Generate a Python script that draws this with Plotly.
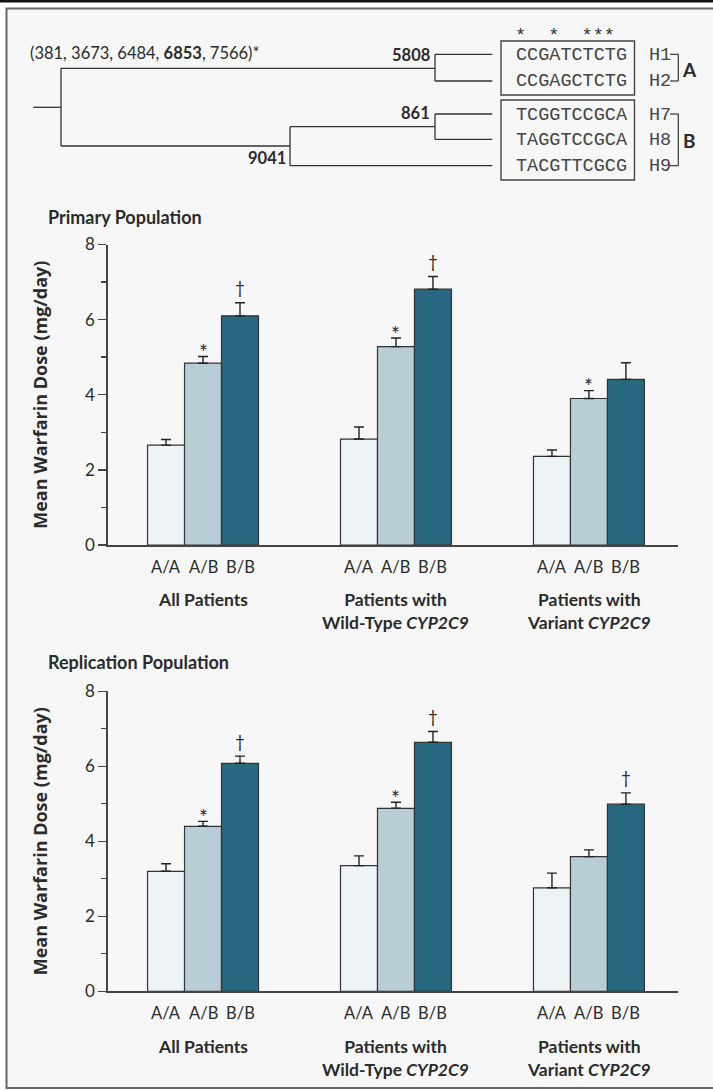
import plotly.graph_objects as go

W, H = 713, 1090

# ---------------- data ----------------
genotypes = ["A/A", "A/B", "B/B"]
groups = ["All Patients",
          "Patients with<br>Wild-Type <i>CYP2C9</i>",
          "Patients with<br>Variant <i>CYP2C9</i>"]

primary_mean = {"A/A": [2.66, 2.82, 2.36],
                "A/B": [4.84, 5.28, 3.90],
                "B/B": [6.10, 6.81, 4.41]}
primary_err = {"A/A": [0.15, 0.32, 0.17],
               "A/B": [0.18, 0.23, 0.21],
               "B/B": [0.35, 0.34, 0.44]}
primary_sig = {"A/A": ["", "", ""],
               "A/B": ["*", "*", "*"],
               "B/B": ["†", "†", ""]}

replication_mean = {"A/A": [3.20, 3.35, 2.76],
                    "A/B": [4.40, 4.88, 3.59],
                    "B/B": [6.08, 6.64, 4.99]}
replication_err = {"A/A": [0.20, 0.26, 0.39],
                   "A/B": [0.13, 0.16, 0.18],
                   "B/B": [0.19, 0.29, 0.30]}
replication_sig = {"A/A": ["", "", ""],
                   "A/B": ["*", "*", ""],
                   "B/B": ["†", "†", "†"]}

yticks_major = [0, 2, 4, 6, 8]
yticks_minor = [1, 3, 5, 7]

haplotypes = ["H1", "H2", "H7", "H8", "H9"]
sequences = ["CCGATCTCTG", "CCGAGCTCTG", "TCGGTCCGCA", "TAGGTCCGCA", "TACGTTCGCG"]
star_positions = [0, 3, 6, 7, 8]
node_labels = ["5808", "861", "9041"]
snp_header = "(381, 3673, 6484, <b>6853</b>, 7566)*"
clade_labels = ["A", "B"]

# ---------------- styling ----------------
colors = {"A/A": "#eef3f6", "A/B": "#b9cdd7", "B/B": "#27677f"}
TXT = "#2b2b2b"
SANS = "Lato, 'Open Sans', sans-serif"
MONO = "'Liberation Mono', 'DejaVu Sans Mono', monospace"
BARGAP = 0.425
BW = (1 - BARGAP) / 3


def X(px):
    return px / W


def Y(py):
    return 1 - py / H


fig = go.Figure()

panels = [
    dict(mean=primary_mean, err=primary_err, sig=primary_sig, xa="x", ya="y",
         y0=545.0, y8=244.5, title="Primary Population", title_y=217,
         geno_y=566.7, grp_y=597.7),
    dict(mean=replication_mean, err=replication_err, sig=replication_sig, xa="x2", ya="y2",
         y0=991.3, y8=691.3, title="Replication Population", title_y=662,
         geno_y=1012.7, grp_y=1045.0),
]

annotations = []
shapes = []

for p in panels:
    for k, g in enumerate(genotypes):
        fig.add_trace(go.Bar(
            x=list(range(len(groups))), y=p["mean"][g], name=g,
            marker=dict(color=colors[g], line=dict(color="#333", width=1.2)),
            error_y=dict(type="data", array=p["err"][g], arrayminus=[0] * len(groups),
                         symmetric=False, color="#222", thickness=1.4, width=5),
            xaxis=p["xa"], yaxis=p["ya"], showlegend=False, hoverinfo="skip",
            offsetgroup=g,
        ))
        for i in range(len(groups)):
            s = p["sig"][g][i]
            xpos = i + (k - 1) * BW
            if s:
                annotations.append(dict(
                    x=xpos, y=p["mean"][g][i] + p["err"][g][i], xref=p["xa"], yref=p["ya"],
                    text=s, showarrow=False, yanchor="middle",
                    yshift=(5 if s == "*" else 15),
                    font=dict(family=SANS, size=21 if s == "*" else 17, color=TXT)))
            annotations.append(dict(
                x=xpos, y=Y(p["geno_y"]), xref=p["xa"], yref="paper", text=g,
                showarrow=False, yanchor="middle",
                font=dict(family=SANS, size=16.5, color=TXT)))
    for i, gname in enumerate(groups):
        annotations.append(dict(
            x=i, y=Y(p["grp_y"] - 11), xref=p["xa"], yref="paper",
            text="<b>" + gname + "</b>", showarrow=False, yanchor="top",
            font=dict(family=SANS, size=17.5, color=TXT)))
    annotations.append(dict(
        x=X(46), y=Y(p["title_y"]), xref="paper", yref="paper",
        text="<b>" + p["title"] + "</b>", showarrow=False, xanchor="left", yanchor="middle",
        font=dict(family=SANS, size=18, color=TXT)))
    annotations.append(dict(
        x=X(40), y=Y((p["y0"] + p["y8"]) / 2), xref="paper", yref="paper",
        text="<b>Mean Warfarin Dose (mg/day)</b>", textangle=-90, showarrow=False,
        xanchor="center", yanchor="middle",
        font=dict(family="'Open Sans', sans-serif", size=18, color=TXT)))

# ---------------- axes ----------------
xdom = [X(107.7), X(677.7)]
xr = [-0.494, 2.46]
axis_common_x = dict(domain=xdom, range=xr, showline=True, linecolor="#444", linewidth=1.5,
                     showticklabels=False, ticks="", showgrid=False, zeroline=False,
                     fixedrange=True, automargin=False)


def yaxis(p, anchor):
    return dict(domain=[Y(p["y0"]), Y(p["y8"])], range=[0, 8], anchor=anchor,
                tickvals=yticks_major, ticktext=[str(v) for v in yticks_major],
                ticks="outside", ticklen=8, tickwidth=1.4, tickcolor="#444",
                showline=True, linecolor="#444", linewidth=1.5, showgrid=False,
                zeroline=False, tickfont=dict(family=SANS, size=17, color=TXT),
                minor=dict(tickvals=yticks_minor, ticks="outside", ticklen=5,
                           tickwidth=1.4, tickcolor="#444", showgrid=False),
                fixedrange=True, automargin=False)


# ---------------- tree diagram ----------------
LC = "#333"


def seg(x0, y0, x1, y1, color=LC, width=1.3):
    shapes.append(dict(type="line", xref="paper", yref="paper",
                       x0=X(x0), y0=Y(y0), x1=X(x1), y1=Y(y1),
                       line=dict(color=color, width=width)))


leaf_y = [54.3, 81.0, 114.0, 139.3, 165.7]
x_root, x_9041, x_node, x_leaf = 61.0, 290.0, 435.0, 492.3
seg(33.3, 107.3, x_root, 107.3)
seg(x_root, 68.3, x_root, 146.0)
seg(x_root, 68.3, x_node, 68.3)
seg(x_root, 146.0, x_9041, 146.0)
seg(x_9041, 126.7, x_9041, leaf_y[4])
seg(x_9041, 126.7, x_node, 126.7)
seg(x_9041, leaf_y[4], x_leaf, leaf_y[4])
seg(x_node, leaf_y[0], x_node, leaf_y[1])
seg(x_node, leaf_y[2], x_node, leaf_y[3])
for ly in leaf_y[:4]:
    seg(x_node, ly, x_leaf, ly)

# boxes
for (t, b) in [(41.0, 95.0), (100.0, 180.0)]:
    shapes.append(dict(type="rect", xref="paper", yref="paper",
                       x0=X(501), y0=Y(t), x1=X(634.5), y1=Y(b),
                       line=dict(color="#444", width=1.4), fillcolor="rgba(0,0,0,0)"))

# brackets
for (t, b) in [(leaf_y[0], leaf_y[1]), (leaf_y[2], leaf_y[4])]:
    seg(670, t, 678.3, t, width=1.2)
    seg(678.3, t, 678.3, b, width=1.2)
    seg(670, b, 678.3, b, width=1.2)

seq_x = 514.0
for hname, sq, ly in zip(haplotypes, sequences, leaf_y):
    annotations.append(dict(x=X(seq_x), y=Y(ly + 1), xref="paper", yref="paper", text=sq,
                            showarrow=False, xanchor="left", yanchor="middle",
                            font=dict(family=MONO, size=18.5, color="#444")))
    annotations.append(dict(x=X(647), y=Y(ly + 1), xref="paper", yref="paper", text=hname,
                            showarrow=False, xanchor="left", yanchor="middle",
                            font=dict(family=MONO, size=18.5, color="#444")))
star_text = "".join("*" if i in star_positions else "\u00a0" for i in range(len(sequences[0])))
annotations.append(dict(x=X(seq_x), y=Y(48), xref="paper", yref="paper", text=star_text,
                        showarrow=False, xanchor="left", yanchor="bottom", borderpad=0,
                        font=dict(family=MONO, size=18.5, color="#333")))
for lab, cy in zip(clade_labels, [69.3, 140.0]):
    annotations.append(dict(x=X(689), y=Y(cy), xref="paper", yref="paper",
                            text="<b>" + lab + "</b>", showarrow=False,
                            xanchor="center", yanchor="middle",
                            font=dict(family=SANS, size=19, color=TXT)))
for lab, (rx, cy) in zip(node_labels, [(432, 55.0), (432, 113.3), (287.5, 157.7)]):
    annotations.append(dict(x=X(rx), y=Y(cy), xref="paper", yref="paper",
                            text="<b>" + lab + "</b>", showarrow=False,
                            xanchor="right", yanchor="middle",
                            font=dict(family=SANS, size=16.5, color=TXT)))
annotations.append(dict(x=X(28), y=Y(53), xref="paper", yref="paper", text=snp_header,
                        showarrow=False, xanchor="left", yanchor="middle",
                        font=dict(family=SANS, size=16.5, color=TXT)))

# frame
shapes.insert(0, dict(type="rect", xref="paper", yref="paper", layer="below",
                      x0=X(6.5), y0=Y(8.5), x1=1.01, y1=Y(1088),
                      line=dict(color="#666", width=2), fillcolor="#f7f7f7"))
shapes.insert(1, dict(type="line", xref="paper", yref="paper", layer="below",
                      x0=0, y0=Y(1.2), x1=1, y1=Y(1.2),
                      line=dict(color="#111", width=2.5)))

fig.update_layout(
    width=W, height=H, margin=dict(l=0, r=0, t=0, b=0, autoexpand=False),
    paper_bgcolor="white", plot_bgcolor="rgba(0,0,0,0)",
    barmode="group", bargap=BARGAP, bargroupgap=0,
    xaxis=dict(anchor="y", **axis_common_x),
    xaxis2=dict(anchor="y2", **axis_common_x),
    yaxis=yaxis(panels[0], "x"),
    yaxis2=yaxis(panels[1], "x2"),
    annotations=annotations, shapes=shapes,
    showlegend=False,
)

fig.write_html(
    "out.html",
    config={"displayModeBar": False, "staticPlot": True},
    post_script=("document.body.style.margin='0';document.body.style.padding='0';"
                 "document.documentElement.style.overflow='hidden';"
                 "document.body.style.overflow='hidden';"),
)
